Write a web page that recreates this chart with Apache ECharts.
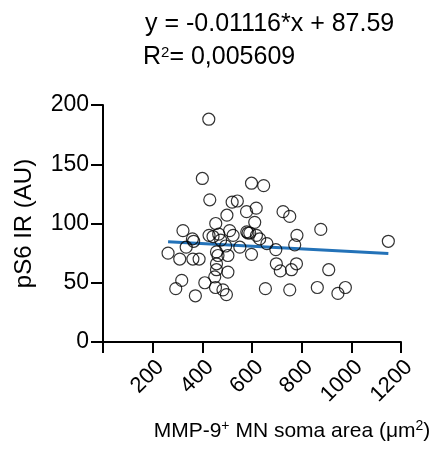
<!DOCTYPE html>
<html><head><meta charset="utf-8">
<script src="https://cdn.jsdelivr.net/npm/echarts@6/dist/echarts.min.js"></script>
<style>html,body{margin:0;padding:0;background:#fff}#c{width:432px;height:452px}</style>
</head><body><div id="c"></div>
<script>
// MMP-9+ MN soma area (µm²) values
const somaArea = [262,293,317,322,309,335,360,365,362,387,372,410,400,426,430,427,443,466,454,457,463,457,457,450,453,483,497,474,494,503,503,499,520,541,510,524,551,578,579,584,598,598,647,617,611,591,618,631,725,752,877,781,772,660,696,698,714,759,779,909,654,752,863,946,976,1149];
// pS6 IR (AU) values
const pS6IR = [75,45,52,94,70,80,87,85,70,70,39,50,138,188,120,90,89,91,100,76,73,66,61,55,46,44,40,86,81,73,59,107,118,119,94,90,80,110,93,92,74,134,132,113,101,92,90,87,110,106,95,90,82,83,78,66,60,61,66,61,45,44,46,41,46,85];
const slope = -0.01116;
const intercept = 87.59;
const xTicks = [0,200,400,600,800,1000,1200];
const yTicks = [0,50,100,150,200];

const pts = somaArea.map((x,i)=>[x,pS6IR[i]]);
const xMin = Math.min(...somaArea), xMax = Math.max(...somaArea);
const fit = [[xMin, slope*xMin+intercept],[xMax, slope*xMax+intercept]];

const font = 'Liberation Sans, Arial, sans-serif';
const sup = {fontFamily:font,fontSize:14,verticalAlign:'top',padding:[0,0,10,0],color:'#000'};
const chart = echarts.init(document.getElementById('c'));
chart.setOption({
  animation:false,
  title:[
    {text:'y = -0.01116*x + 87.59', left:140, top:7, textStyle:{fontFamily:font,fontSize:25,fontWeight:'normal',color:'#000'}},
    {text:'R{s|2}= 0,005609', left:138, top:40, textStyle:{fontFamily:font,fontSize:25,fontWeight:'normal',color:'#000',
      rich:{s:Object.assign({},sup,{fontSize:15})}}}
  ],
  grid:{left:103,right:31,top:105,bottom:110,outerBoundsMode:'none',containLabel:false},
  xAxis:{type:'value',min:xTicks[0],max:xTicks[xTicks.length-1],interval:200,
    splitLine:{show:false},
    axisLine:{lineStyle:{color:'#000',width:2}},
    axisTick:{length:11,lineStyle:{color:'#000',width:2}},
    axisLabel:{rotate:45,margin:14,verticalAlign:'top',fontFamily:font,fontSize:22,color:'#000',
      formatter:v=>v===0?'':String(v)},
    name:'MMP-9{s|+} MN soma area (μm{s|2})',nameLocation:'middle',nameGap:77,
    nameTextStyle:{fontFamily:font,fontSize:21,color:'#000',padding:[0,0,0,80],
      rich:{s:sup}}
  },
  yAxis:{type:'value',min:yTicks[0],max:yTicks[yTicks.length-1],interval:50,
    splitLine:{show:false},
    axisLine:{lineStyle:{color:'#000',width:2}},
    axisTick:{length:12,lineStyle:{color:'#000',width:2}},
    axisLabel:{margin:14,fontFamily:font,fontSize:23,color:'#000'},
    name:'pS6 IR (AU)',nameLocation:'middle',nameGap:61,nameRotate:90,
    nameTextStyle:{fontFamily:font,fontSize:24,color:'#000',padding:[0,0,6,0]}
  },
  series:[
    {type:'scatter',data:pts,symbol:'circle',symbolSize:12,
      itemStyle:{color:'rgba(255,255,255,0)',borderColor:'#000',borderWidth:1.2},z:3},
    {type:'line',data:fit,symbol:'none',lineStyle:{color:'#2372b8',width:3},z:2}
  ]
});
</script></body></html>
